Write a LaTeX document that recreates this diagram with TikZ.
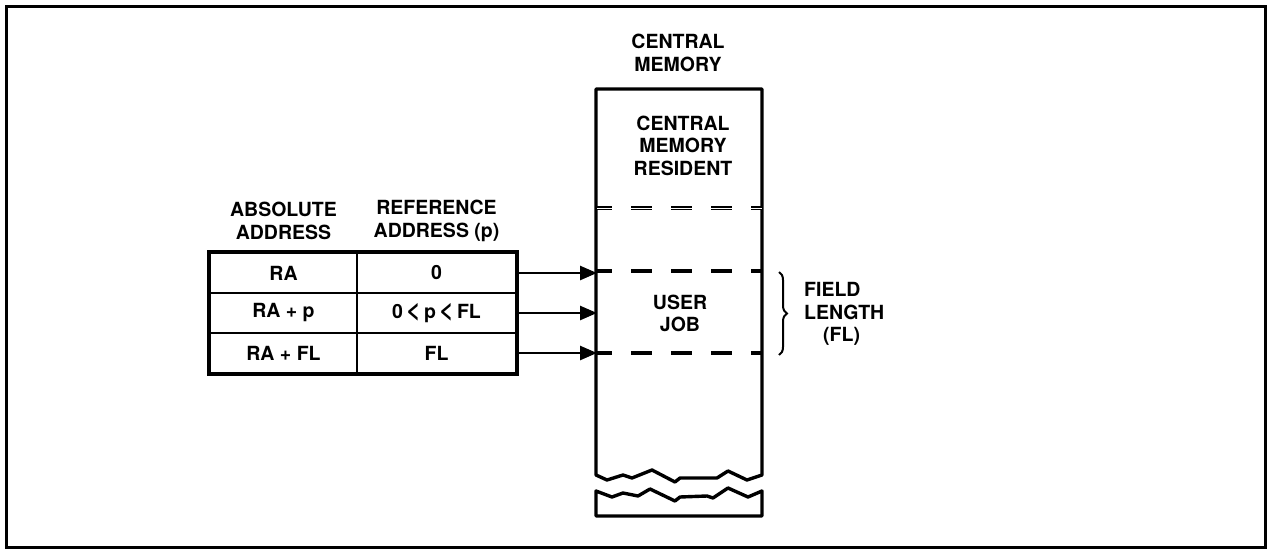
\documentclass[tikz,border=0pt]{standalone}
\usepackage{fontspec}
\setmainfont{TeX Gyre Heros}
\usetikzlibrary{arrows.meta,decorations.pathreplacing}
\newcommand{\biglt}{{\fontsize{25}{25}\selectfont\raisebox{-0.5pt}{<}}}
\begin{document}
\begin{tikzpicture}[x=1pt,y=-1pt,
  lbl/.style={font=\fontsize{19.5}{22.5}\selectfont\bfseries, align=center, inner sep=0pt},
  cell/.style={lbl, draw, line width=2.6pt, minimum height=40pt},
  colA/.style={cell, minimum width=147pt},
  colB/.style={cell, minimum width=159pt},
  arr/.style={line width=2.6pt, -{Triangle[length=17pt,width=14pt]}},
  memline/.style={line width=3.4pt, line join=round, line cap=round},
  dashline/.style={line width=4.5pt, dash pattern=on 21pt off 19pt, dash phase=6pt},
  framebox/.style={line width=3pt}
]
\useasboundingbox (0,0) rectangle (1267,549);
% outer frame
\draw[framebox] (6,6) rectangle (1265,547);

% table headers
\node[lbl] (abshead) at (283.5,221) {ABSOLUTE\\ADDRESS};
\node[lbl] (refhead) at (436.5,221) {REFERENCE\\ADDRESS (p)};

% table cells
\node[colA] (r1a) at (283.5,273) {RA};
\node[colB] (r1b) at (436.5,273) {0};
\node[colA] (r2a) at (283.5,313) {RA + p};
\node[colB] (r2b) at (436.5,313) {0\,\biglt\,p\,\biglt\,FL};
\node[colA] (r3a) at (283.5,353) {RA + FL};
\node[colB] (r3b) at (436.5,353) {FL};
\draw[line width=3.4pt] (r1a.north west) rectangle (r3b.south east);

% central memory
\node[lbl] (cmhead) at (678,53) {CENTRAL\\MEMORY};
\node[lbl] (cmres) at (683,145.5) {CENTRAL\\MEMORY\\RESIDENT};
\node[lbl] (userjob) at (680,313.5) {USER\\JOB};

\draw[memline] (596,475) -- (596,89) -- (762,89) -- (762,475)
  -- (747,480) -- (728,471) -- (717,478) -- (680,478) -- (675,482)
  -- (652,470) -- (632,478) -- (623,475) -- (607,480) -- cycle;
\draw[memline] (596,491) -- (612,497) -- (623,493) -- (638,496) -- (650,489)
  -- (675,501) -- (680,497) -- (707,496) -- (713,498) -- (728,488)
  -- (748,497) -- (762,491) -- (762,516) -- (596,516) -- cycle;

% dashed boundaries
\draw[line width=1.8pt, double=white, double distance=0.9pt, dash pattern=on 21pt off 19pt, dash phase=6pt] (597,208) -- (762,208);
\draw[dashline] (597,271) -- (762,271);
\draw[dashline] (597,353) -- (762,353);

% arrow targets
\coordinate (t1) at (597,273);
\coordinate (t2) at (597,313);
\coordinate (t3) at (597,353);
\draw[arr] (r1b.east) -- (t1);
\draw[arr] (r2b.east) -- (t2);
\draw[arr] (r3b.east) -- (t3);

% field length brace
\coordinate (bt) at (779,272);
\coordinate (bb) at (779,355);
\draw[line width=2pt, decorate, decoration={brace, amplitude=8pt}] (bt) -- (bb);
\node[lbl, align=left, anchor=west] (fl) at (804,314) {FIELD\\LENGTH\\\hspace*{19pt}(FL)};
\end{tikzpicture}
\end{document}
